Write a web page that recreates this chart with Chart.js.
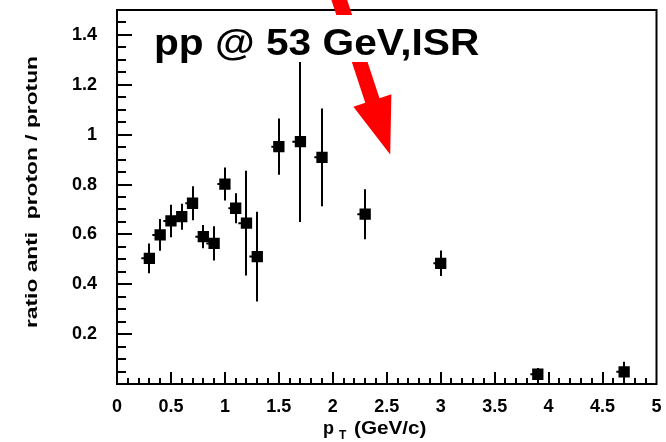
<!DOCTYPE html>
<html>
<head>
<meta charset="utf-8">
<script src="https://cdn.jsdelivr.net/npm/chart.js@4/dist/chart.umd.min.js"></script>
<style>
  html, body { margin: 0; padding: 0; background: #fff; }
  #wrap { width: 666px; height: 442px; }
</style>
</head>
<body>
<div id="wrap"><canvas id="ratio"></canvas></div>
<script>
// anti-proton / proton ratio vs pT, pp at 53 GeV (ISR)
const ptValues = [0.3, 0.4, 0.5, 0.6, 0.7, 0.8, 0.9, 1.0, 1.1, 1.2, 1.3, 1.5, 1.7, 1.9, 2.3, 3.0, 3.9, 4.7];
const ratioValues = [0.504, 0.598, 0.654, 0.671, 0.725, 0.591, 0.564, 0.802, 0.705, 0.645, 0.511, 0.952, 0.972, 0.909, 0.681, 0.484, 0.039, 0.049];
const ratioErrors = [0.06, 0.064, 0.065, 0.052, 0.068, 0.047, 0.069, 0.066, 0.06, 0.21, 0.18, 0.113, 0.322, 0.196, 0.1, 0.051, 0.025, 0.04];

const xTickValues = [0, 0.5, 1, 1.5, 2, 2.5, 3, 3.5, 4, 4.5, 5];
const yTickValues = [0.2, 0.4, 0.6, 0.8, 1, 1.2, 1.4];

const plotTitle = "pp @ 53 GeV,ISR";
const yAxisTitle = "ratio anti  proton / protun";

// red arrow, in data units (tail sits above the frame)
const arrowFrom = { x: 2.045, y: 1.56 };
const arrowTo = { x: 2.532, y: 0.92 };

const style = {
    frameWidth: 2,
    tickWidth: 2,
    xMajorLen: 12, xMinorLen: 6,
    yMajorLen: 15, yMinorLen: 9,
    errWidth: 2,
    markerRadius: 8,
    arrowColor: "#ff0000",
    fontFamily: "'Liberation Sans', Arial, sans-serif"
};

const points = ptValues.map((x, i) => ({ x: x, y: ratioValues[i], err: ratioErrors[i] }));

function fixedTicks(values) {
    return scale => { scale.ticks = values.map(v => ({ value: v })); };
}

// vertical error bars plus the small nub on the marker's left side
const errorBars = {
    id: "errorBars",
    beforeDatasetsDraw(chart) {
        const { ctx, scales: { x, y } } = chart;
        const half = style.markerRadius * Math.SQRT1_2;
        ctx.save();
        ctx.strokeStyle = "#000";
        ctx.lineWidth = style.errWidth;
        points.forEach(p => {
            const px = Math.round(x.getPixelForValue(p.x));
            const py = y.getPixelForValue(p.y);
            ctx.beginPath();
            ctx.moveTo(px, y.getPixelForValue(Math.min(p.y + p.err, y.max)));
            ctx.lineTo(px, y.getPixelForValue(Math.max(p.y - p.err, y.min)));
            ctx.moveTo(px - half - 2, py);
            ctx.lineTo(px, py);
            ctx.stroke();
        });
        ctx.restore();
    }
};

const frameAndDecor = {
    id: "frameAndDecor",
    afterDatasetsDraw(chart) {
        const { ctx, chartArea: a, scales: { x, y } } = chart;
        ctx.save();

        // frame
        ctx.strokeStyle = "#000";
        ctx.lineWidth = style.frameWidth;
        ctx.strokeRect(a.left, a.top, a.right - a.left, a.bottom - a.top);

        // inward ticks on left and bottom
        ctx.lineWidth = style.tickWidth;
        ctx.beginPath();
        for (let i = 1; i < 50; i++) {
            const px = Math.round(x.getPixelForValue(i / 10));
            const len = i % 5 === 0 ? style.xMajorLen : style.xMinorLen;
            ctx.moveTo(px, a.bottom);
            ctx.lineTo(px, a.bottom - len);
        }
        for (let i = 1; i < 30; i++) {
            const py = Math.round(y.getPixelForValue(i / 20));
            const len = i % 4 === 0 ? style.yMajorLen : style.yMinorLen;
            ctx.moveTo(a.left, py);
            ctx.lineTo(a.left + len, py);
        }
        ctx.stroke();

        // arrow
        const x0 = x.getPixelForValue(arrowFrom.x), y0 = y.getPixelForValue(arrowFrom.y);
        const x1 = x.getPixelForValue(arrowTo.x), y1 = y.getPixelForValue(arrowTo.y);
        const ang = Math.atan2(y1 - y0, x1 - x0);
        const headLen = 57, headHalf = 20, shaftHalf = 7.5;
        const bx = x1 - headLen * Math.cos(ang), by = y1 - headLen * Math.sin(ang);
        const nx = -Math.sin(ang), ny = Math.cos(ang);
        ctx.fillStyle = style.arrowColor;
        ctx.beginPath();
        ctx.moveTo(x0 + nx * shaftHalf, y0 + ny * shaftHalf);
        ctx.lineTo(bx + nx * shaftHalf, by + ny * shaftHalf);
        ctx.lineTo(bx + nx * headHalf, by + ny * headHalf);
        ctx.lineTo(x1, y1);
        ctx.lineTo(bx - nx * headHalf, by - ny * headHalf);
        ctx.lineTo(bx - nx * shaftHalf, by - ny * shaftHalf);
        ctx.lineTo(x0 - nx * shaftHalf, y0 - ny * shaftHalf);
        ctx.closePath();
        ctx.fill();

        // title label on a white box
        const stretch = 1.13;
        ctx.font = "bold 36px " + style.fontFamily;
        const tw = ctx.measureText(plotTitle).width * stretch;
        const tx = a.left + 37, tBase = a.top + 45;
        ctx.fillStyle = "#fff";
        ctx.fillRect(tx - 4, a.top + 5, tw + 8, 47);
        ctx.fillStyle = "#000";
        ctx.textBaseline = "alphabetic";
        ctx.textAlign = "left";
        ctx.save();
        ctx.translate(tx, tBase);
        ctx.scale(stretch, 1);
        ctx.fillText(plotTitle, 0, 0);
        ctx.restore();

        // y axis title
        ctx.font = "bold 16px " + style.fontFamily;
        const yw = ctx.measureText(yAxisTitle).width;
        ctx.save();
        ctx.translate(33, 192);
        ctx.rotate(-Math.PI / 2);
        ctx.scale(272 / yw, 1);
        ctx.textAlign = "center";
        ctx.textBaseline = "middle";
        ctx.fillText(yAxisTitle, 0, 0);
        ctx.restore();

        // x axis title: p_T (GeV/c)
        const xt = 323, xb = 434;
        ctx.font = "bold 18px " + style.fontFamily;
        ctx.textAlign = "left";
        ctx.textBaseline = "alphabetic";
        ctx.fillText("p", xt, xb);
        const pw = ctx.measureText("p").width;
        ctx.font = "bold 12px " + style.fontFamily;
        ctx.fillText("T", xt + pw + 5, xb + 5);
        ctx.font = "bold 18px " + style.fontFamily;
        ctx.save();
        ctx.translate(xt + pw + 20, xb);
        ctx.scale(1.15, 1);
        ctx.fillText("(GeV/c)", 0, 0);
        ctx.restore();

        ctx.restore();
    }
};

new Chart(document.getElementById("ratio"), {
    type: "scatter",
    data: {
        datasets: [{
            label: "ratio",
            data: points,
            pointStyle: "rect",
            pointRadius: style.markerRadius,
            pointHoverRadius: style.markerRadius,
            backgroundColor: "#000",
            borderColor: "#000",
            borderWidth: 0
        }]
    },
    options: {
        responsive: true,
        maintainAspectRatio: false,
        animation: false,
        layout: { padding: { left: 0, right: 9.5, top: 10, bottom: 0 } },
        plugins: {
            legend: { display: false },
            tooltip: { enabled: false }
        },
        scales: {
            x: {
                type: "linear",
                min: 0,
                max: 5,
                afterBuildTicks: fixedTicks(xTickValues),
                afterFit: s => {
                    s.height = 58;
                    s.paddingLeft = 0;
                    s.paddingRight = 0;
                },
                grid: { display: false },
                border: { display: false },
                ticks: {
                    color: "#000",
                    padding: 4,
                    maxRotation: 0,
                    font: { family: style.fontFamily, size: 18, weight: "bold" },
                    callback: v => String(v)
                }
            },
            y: {
                type: "linear",
                min: 0,
                max: 1.5,
                afterBuildTicks: fixedTicks(yTickValues),
                afterFit: s => {
                    s.width = 117;
                    s.paddingTop = 0;
                    s.paddingBottom = 0;
                },
                grid: { display: false },
                border: { display: false },
                ticks: {
                    color: "#000",
                    padding: 12,
                    font: { family: style.fontFamily, size: 18, weight: "bold" },
                    callback: v => String(v)
                }
            }
        }
    },
    plugins: [errorBars, frameAndDecor]
});
</script>
</body>
</html>
